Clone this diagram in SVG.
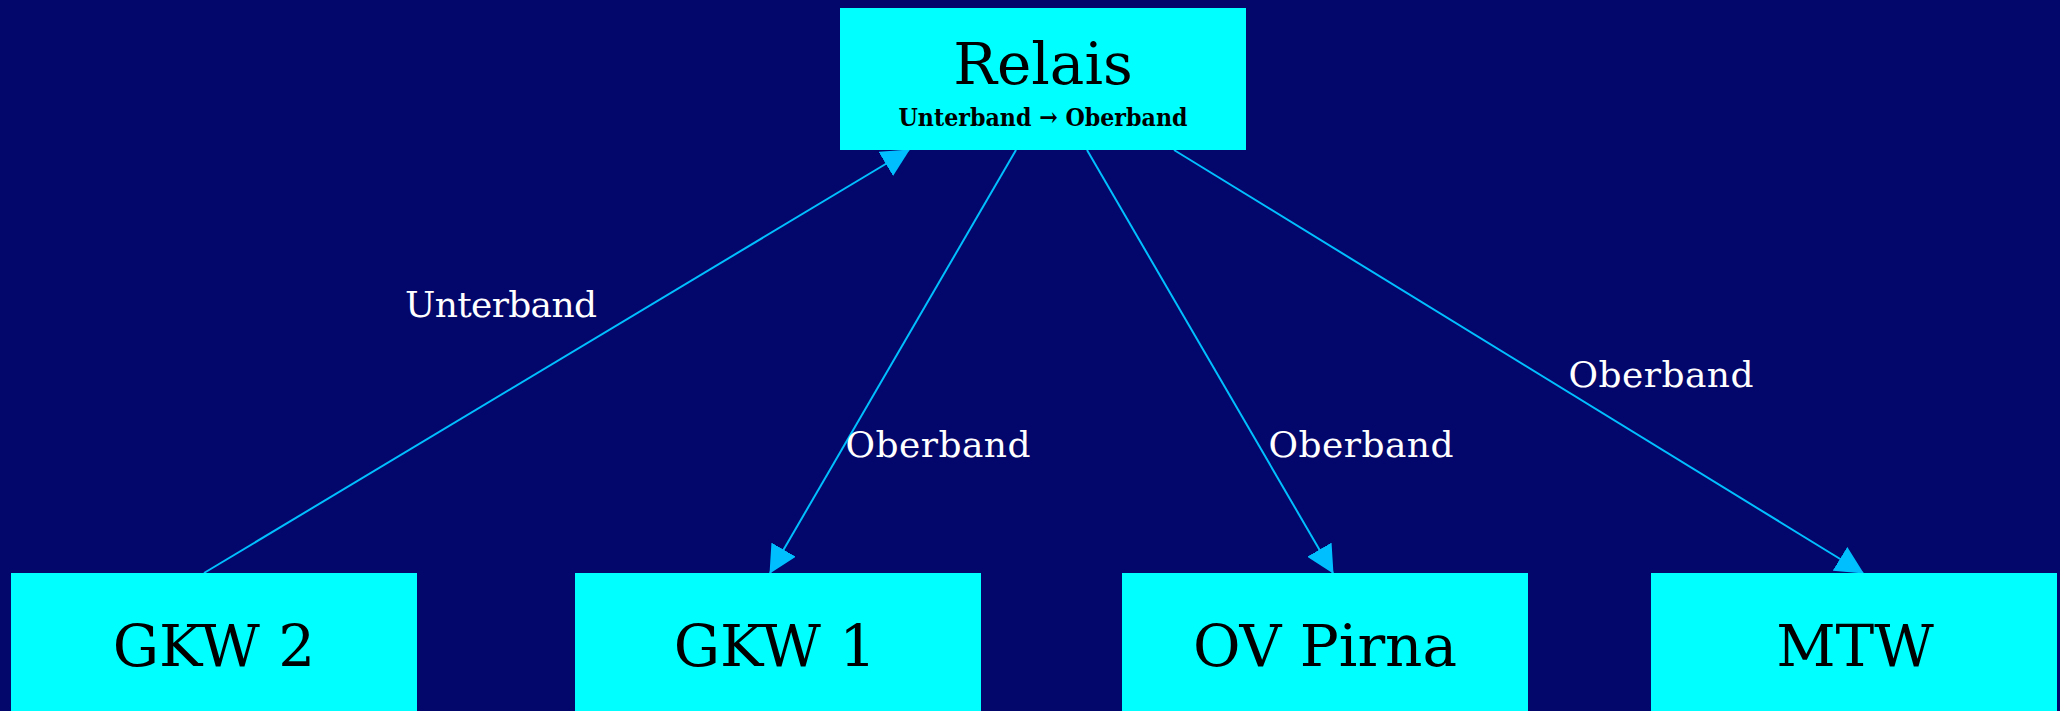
<svg xmlns="http://www.w3.org/2000/svg" width="2060" height="711" viewBox="0 0 2060 711">
  <style>
    .node rect { fill: #00FFFF; }
    .title { font-family: "DejaVu Serif", "Liberation Serif", serif; font-size: 58px; fill: #000000; text-anchor: middle; }
    .sub { font-family: "DejaVu Serif", "Liberation Serif", serif; font-size: 25px; font-weight: bold; fill: #000000; text-anchor: middle; }
    .edge line { stroke: #00BFFF; stroke-width: 2; fill: none; }
    .elabel { font-family: "DejaVu Serif", "Liberation Serif", serif; font-size: 36px; fill: #FFFFFF; text-anchor: middle; }
  </style>
  <defs>
    <marker id="arrow" markerUnits="userSpaceOnUse" markerWidth="28" markerHeight="28" viewBox="0 0 28 28" refX="27" refY="14" orient="auto">
      <path d="M0,0 L28,14 L0,28 z" fill="#00BFFF"/>
    </marker>
  </defs>

  <rect x="0" y="0" width="2060" height="711" fill="#03066A"/>

  <g id="connectors">
    <g class="edge" id="edge-gkw2-relais">
      <line x1="204" y1="573" x2="909" y2="150" marker-end="url(#arrow)"/>
      <text class="elabel" x="501" y="317" textLength="192">Unterband</text>
    </g>
    <g class="edge" id="edge-relais-gkw1">
      <line x1="1016" y1="150" x2="770" y2="573" marker-end="url(#arrow)"/>
      <text class="elabel" x="938" y="457" textLength="185">Oberband</text>
    </g>
    <g class="edge" id="edge-relais-ovpirna">
      <line x1="1087" y1="150" x2="1333" y2="573" marker-end="url(#arrow)"/>
      <text class="elabel" x="1361" y="457" textLength="185">Oberband</text>
    </g>
    <g class="edge" id="edge-relais-mtw">
      <line x1="1174" y1="150" x2="1863" y2="573" marker-end="url(#arrow)"/>
      <text class="elabel" x="1661" y="387" textLength="185">Oberband</text>
    </g>
  </g>

  <g class="node" id="relais">
    <rect x="840" y="8" width="406" height="142"/>
    <text class="title" x="1043" y="84">Relais</text>
    <text class="sub" x="1043" y="126" textLength="289" lengthAdjust="spacingAndGlyphs">Unterband → Oberband</text>
  </g>

  <g class="node" id="gkw2">
    <rect x="11" y="573" width="406" height="142"/>
    <text class="title" x="214" y="666">GKW 2</text>
  </g>

  <g class="node" id="gkw1">
    <rect x="575" y="573" width="406" height="142"/>
    <text class="title" x="775" y="666">GKW 1</text>
  </g>

  <g class="node" id="ovpirna">
    <rect x="1122" y="573" width="406" height="142"/>
    <text class="title" x="1325" y="666">OV Pirna</text>
  </g>

  <g class="node" id="mtw">
    <rect x="1651" y="573" width="406" height="142"/>
    <text class="title" x="1855" y="666">MTW</text>
  </g>
</svg>
